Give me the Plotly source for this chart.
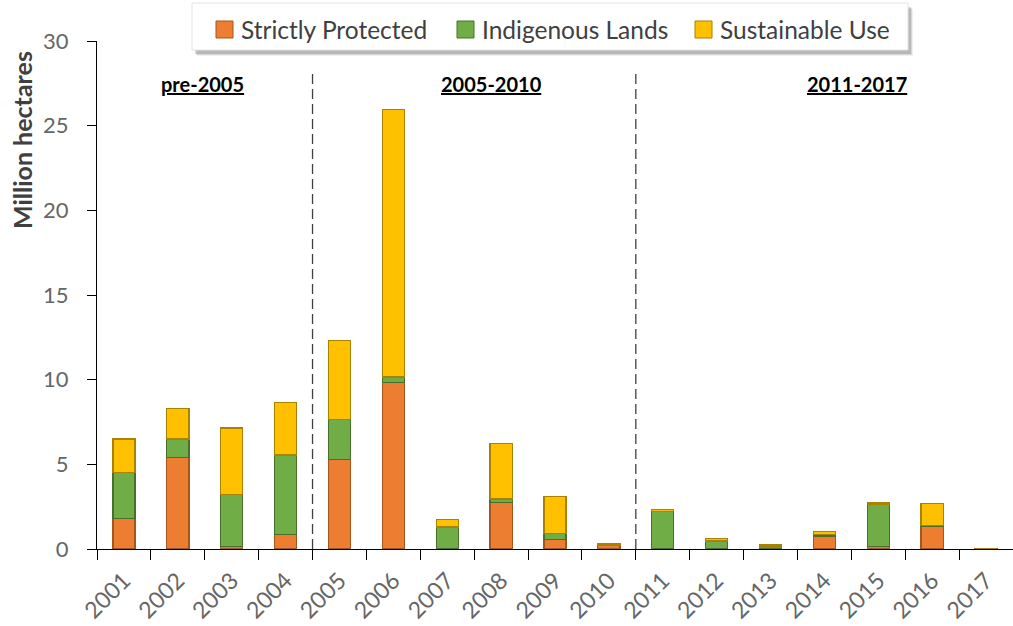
import plotly.graph_objects as go

years = [str(y) for y in range(2001, 2018)]
strictly_protected = [1.8, 5.4, 0.15, 0.85, 5.3, 9.85, 0.05, 2.75, 0.57, 0.22, 0.05, 0.03, 0.02, 0.77, 0.15, 1.36, 0.05]
indigenous_lands = [2.7, 1.1, 3.05, 4.7, 2.35, 0.3, 1.25, 0.2, 0.35, 0.02, 2.17, 0.45, 0.1, 0.1, 2.5, 0.02, 0.0]
sustainable_use = [2.0, 1.8, 3.95, 3.1, 4.65, 15.8, 0.45, 3.3, 2.2, 0.1, 0.1, 0.12, 0.12, 0.15, 0.1, 1.3, 0.0]

period_labels = ["pre-2005", "2005-2010", "2011-2017"]
period_label_x = [1.45, 6.83, 13.6]
divider_x = [3.5, 9.5]

series = [
    ("Strictly Protected", strictly_protected, "#ED7D31", "#A5561F"),
    ("Indigenous Lands", indigenous_lands, "#70AD47", "#47702B"),
    ("Sustainable Use", sustainable_use, "#FFC000", "#A88200"),
]

W, H = 1013, 626
L, R, T, B = 97, 0, 41, 77
PW, PH = W - L - R, H - T - B


def px(x):
    return (x - L) / PW


def py(y):
    return (H - B - y) / PH


font = "Lato, 'Open Sans', sans-serif"

fig = go.Figure()
for name, vals, col, edge in series:
    fig.add_trace(go.Bar(
        x=years, y=vals, name=name, showlegend=False,
        marker=dict(color=col, line=dict(color=edge, width=1.3)),
    ))

for xv in divider_x:
    fig.add_shape(type="line", x0=xv, x1=xv, y0=0, y1=28.3, xref="x", yref="y",
                  line=dict(color="#404040", width=1.3, dash="10px,5px"))

for lab, xv in zip(period_labels, period_label_x):
    fig.add_annotation(x=xv, y=27.45, xref="x", yref="y", text=f"<b><u>{lab}</u></b>",
                       showarrow=False, font=dict(family=font, size=20, color="#000000"))

# custom legend box with soft shadow
for off, alpha in [(6, 0.06), (5, 0.10), (4, 0.14)]:
    fig.add_shape(type="rect", xref="paper", yref="paper",
                  x0=px(192 + off - 1), x1=px(908 + off - 1), y0=py(50 + off), y1=py(3 + off),
                  fillcolor=f"rgba(0,0,0,{alpha})", line=dict(width=0), layer="above")
fig.add_shape(type="rect", xref="paper", yref="paper",
              x0=px(192), x1=px(908), y0=py(50), y1=py(3),
              fillcolor="white", line=dict(color="#E3E3E3", width=1), layer="above")

legend_sq_x = [216, 457, 695]
legend_txt_x = [239, 480, 718]
for (name, _, col, edge), sx, tx in zip(series, legend_sq_x, legend_txt_x):
    fig.add_shape(type="rect", xref="paper", yref="paper",
                  x0=px(sx), x1=px(sx + 17), y0=py(38), y1=py(21),
                  fillcolor=col, line=dict(color=edge, width=1), layer="above")
    fig.add_annotation(xref="paper", yref="paper", x=px(tx), y=py(29), text=name,
                       xanchor="left", yanchor="middle", showarrow=False,
                       font=dict(family=font, size=24.5, color="#404040"))

fig.add_annotation(xref="paper", yref="paper", x=px(22), y=py(140), text="<b>Million hectares</b>",
                   textangle=-90, showarrow=False, xanchor="center", yanchor="middle",
                   font=dict(family=font, size=25, color="#404040"))

fig.update_layout(
    width=W, height=H,
    margin=dict(l=L, r=R, t=T, b=B),
    paper_bgcolor="white", plot_bgcolor="white",
    barmode="stack", bargap=0.59,
    font=dict(family=font, color="#595959"),
    showlegend=False,
    xaxis=dict(type="category", range=[-0.5, 16.5], showline=True, linecolor="#000000",
               linewidth=1, ticks="outside", tickson="boundaries", ticklen=10,
               tickcolor="#000000", tickangle=-45, tickfont=dict(size=23, color="#666666"),
               ticklabelstandoff=8,
               showgrid=False, automargin=False),
    yaxis=dict(range=[0, 30], dtick=5, showline=True, linecolor="#000000", linewidth=1,
               ticks="outside", ticklen=9, tickcolor="#000000", showgrid=False,
               ticklabelstandoff=14,
               zeroline=False, tickfont=dict(size=22, color="#666666"), automargin=False),
)

fig.write_html("out.html", config={"displayModeBar": False},
               post_script="document.body.style.margin='0';document.body.style.overflow='hidden';")
